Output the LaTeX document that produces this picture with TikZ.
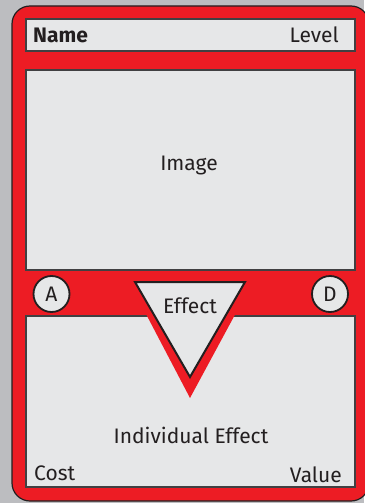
\documentclass[tikz,border=0pt]{standalone}
\usepackage{fontspec}
\setmainfont{Fira Sans}
\definecolor{bggray}{HTML}{BCBDC0}
\definecolor{cardred}{HTML}{ED1C24}
\definecolor{boxfill}{HTML}{E6E7E8}
\definecolor{boxline}{HTML}{414042}
\definecolor{ink}{HTML}{231F20}
\tikzset{
  panel/.style={draw=boxline, line width=1.2pt, fill=boxfill},
  lbl/.style={inner sep=0pt, text=ink, font=\fontsize{21}{24}\selectfont},
  badge/.style={circle, draw=ink, line width=1.8pt, fill=boxfill, minimum size=36pt, inner sep=0pt, text=ink, font=\fontsize{21}{24}\selectfont},
}
\begin{document}
\begin{tikzpicture}[x=1pt,y=-1pt]
\useasboundingbox (0,0) rectangle (364,503);
\fill[bggray] (0,0) rectangle (364,503);
\draw[ink, line width=1.2pt, fill=cardred, rounded corners=18pt] (12,6) rectangle (369,501);
\draw[panel] (26,19) rectangle (355,51);
\draw[panel] (26,70) rectangle (355,270);
\draw[panel] (26,316) rectangle (355,487);
% red triangle band
\fill[cardred] (124,272) -- (258,272) -- (190,398) -- cycle;
\draw[ink, line width=2pt, fill=boxfill, line join=miter] (135,282) coordinate (t1) -- (245,282) coordinate (t2) -- (190,377) coordinate (t3) -- cycle;
\node[lbl, anchor=base west, font=\fontsize{21}{24}\selectfont\bfseries] (name) at (33,43) {Name};
\node[lbl, anchor=base east] (level) at (339,43) {Level};
\node[lbl, anchor=base] (image) at (189,170) {Image};
\node[lbl, anchor=base] (effect) at (190,313) {Effect};
\node[lbl, anchor=base] (indiv) at (191,443) {Individual Effect};
\node[lbl, anchor=base west] (cost) at (34,480) {Cost};
\node[lbl, anchor=base east] (value) at (342,482) {Value};
\node[badge] (a) at (51.5,294) {A};
\node[badge] (d) at (330,294) {D};
\end{tikzpicture}
\end{document}
